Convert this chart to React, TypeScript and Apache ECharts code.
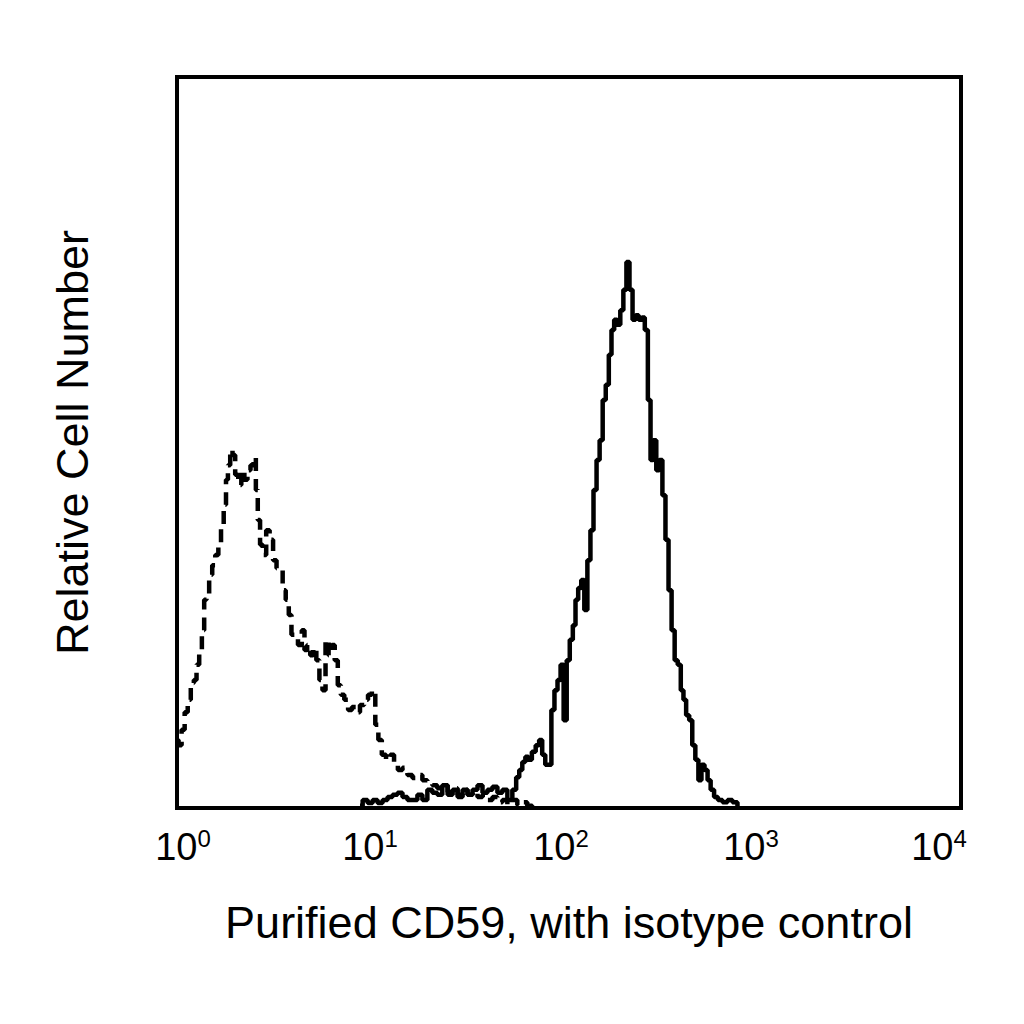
import { useRef, useEffect } from 'react';
import * as echarts from 'echarts';

// channels on a 1024-channel, 4-decade log scale (256 channels per decade)
const decadeTicks = [0, 1, 2, 3, 4];

const isoChannels = [
    0, 4, 8, 12, 16, 20, 24, 27, 31, 34, 37, 40, 44, 48, 52, 56, 59, 63, 65, 68,
    71, 74, 78, 82, 86, 90, 94, 98, 102, 104, 107, 110, 114, 119, 123, 128, 132, 136, 140, 144,
    148, 151, 155, 161, 165, 168, 172, 176, 180, 184, 188, 192, 196, 200, 204, 208, 212, 216, 221, 226,
    231, 236, 242, 247, 252, 257, 261, 265, 270, 276, 281, 286, 291, 298, 304, 311, 317, 324, 330, 337,
    343, 350, 357, 363, 370, 376, 383, 389, 396, 402, 409, 415, 422, 428, 435, 441, 448, 454, 461, 467
];
const isoCounts = [
    9.3, 8.6, 10.7, 13.1, 14.8, 17.1, 17.5, 19.6, 21.6, 24.3, 28.5, 28.9, 31.9, 33.2, 34.6, 36.0, 38.7, 41.5, 44.9, 46.9,
    49.0, 48.3, 45.6, 44.2, 46.2, 44.9, 46.2, 46.9, 48.0, 43.5, 39.4, 36.0, 34.6, 38.0, 36.7, 33.9, 32.8, 32.6, 29.8, 28.5,
    26.4, 23.7, 23.7, 22.3, 24.3, 21.6, 22.3, 20.9, 21.9, 20.2, 17.5, 16.1, 23.0, 20.9, 22.3, 20.2, 16.8, 15.5, 14.8, 13.4,
    13.8, 13.1, 14.1, 14.8, 15.5, 16.1, 11.4, 9.3, 7.3, 6.6, 7.3, 5.9, 5.2, 5.5, 4.5, 4.1, 4.5, 3.8, 3.6, 3.1,
    2.7, 3.1, 2.2, 2.7, 1.8, 2.5, 1.8, 2.2, 1.5, 1.8, 1.1, 1.5, 0.8, 1.1, 0.5, 1.1, 0.4, 0.8, 0.3, 0
];

const cd59Channels = [
    239, 246, 252, 259, 265, 272, 278, 285, 291, 298, 304, 311, 317, 324, 330, 337, 343, 350, 357, 363,
    370, 376, 383, 389, 396, 402, 409, 415, 422, 428, 435, 441, 445, 449, 453, 457, 461, 466, 471, 475,
    479, 483, 487, 491, 495, 499, 503, 507, 511, 515, 519, 522, 526, 530, 534, 538, 542, 546, 550, 554,
    558, 562, 566, 569, 573, 577, 581, 585, 589, 593, 597, 601, 605, 609, 613, 617, 620, 624, 628, 632,
    636, 640, 644, 648, 652, 656, 660, 663, 667, 671, 675, 679, 683, 687, 691, 695, 699, 704, 709, 716,
    722, 729, 735
];
const cd59Counts = [
    0.3, 1.1, 0.7, 1.1, 0.7, 1.1, 1.5, 1.8, 2.1, 1.5, 1.1, 1.1, 1.8, 1.1, 2.5, 2.1, 1.8, 3.1, 1.8, 2.5,
    1.5, 2.5, 1.8, 2.5, 3.1, 2.1, 2.5, 2.9, 2.1, 2.5, 1.1, 2.5, 4.2, 5.2, 6.3, 7.0, 6.6, 7.7, 8.6, 9.3,
    7.3, 5.9, 5.9, 13.4, 16.1, 17.5, 19.6, 12.0, 20.2, 23.0, 25.0, 28.5, 30.1, 31.2, 27.1, 33.9, 38.0, 43.5, 47.6, 50.3,
    55.8, 57.9, 62.0, 65.4, 66.8, 66.1, 68.1, 70.9, 74.7, 70.9, 66.8, 67.4, 66.8, 67.1, 65.4, 55.8, 47.6, 50.3, 46.2, 47.6,
    42.8, 36.7, 29.8, 24.3, 20.2, 19.6, 16.1, 14.8, 12.7, 12.0, 8.6, 6.6, 3.8, 5.9, 5.2, 3.8, 2.5, 1.5, 1.1, 0.8,
    1.1, 0.8, 0.3
];

const xTitle = 'Purified CD59, with isotype control';
const yTitle = 'Relative Cell Number';

const FONT = '"Liberation Sans", Arial, sans-serif';

// the printed decade labels sit slightly inward of the ticks in the original
const labelShift = [6, -3, -8, -14, -22];

const HistogramChart = () => {
    const chartRef = useRef<HTMLDivElement>(null);

    useEffect(() => {
        if (!chartRef.current) return;
        const chart = echarts.init(chartRef.current, null, { renderer: 'svg' });

        const isoData = isoChannels.map((c, i) => [c, isoCounts[i]]);
        const cd59Data = cd59Channels.map((c, i) => [c, cd59Counts[i]]);

        const rich: any = {
            base: { fontFamily: FONT, fontSize: 38, lineHeight: 42, color: '#000' },
            sup: { fontFamily: FONT, fontSize: 24, lineHeight: 24, verticalAlign: 'top', color: '#000' }
        };
        labelShift.forEach((s, i) => {
            rich['g' + i] = { width: Math.abs(s) * 2, fontSize: 10, lineHeight: 42 };
        });

        chart.setOption({
            animation: false,
            backgroundColor: '#fff',
            grid: {
                left: 177,
                right: 63,
                top: 77,
                bottom: 216,
                show: true,
                borderColor: '#000',
                borderWidth: 4,
                backgroundColor: 'transparent'
            },
            xAxis: {
                type: 'value',
                min: 0,
                max: 1024,
                interval: 256,
                name: xTitle,
                nameLocation: 'middle',
                nameGap: 92,
                nameTextStyle: { fontFamily: FONT, fontSize: 45, color: '#000' },
                axisLine: { show: false },
                axisTick: { show: false },
                splitLine: { show: false },
                axisLabel: {
                    margin: 18,
                    showMinLabel: true,
                    showMaxLabel: true,
                    fontFamily: FONT,
                    fontSize: 38,
                    color: '#000',
                    formatter: (v: number) => {
                        const i = Math.round(v / 256);
                        const label = `{base|10}{sup|${decadeTicks[i]}}`;
                        return labelShift[i] > 0 ? `{g${i}| }${label}` : `${label}{g${i}| }`;
                    },
                    rich
                }
            },
            yAxis: {
                type: 'value',
                min: 0,
                max: 100,
                name: yTitle,
                nameLocation: 'middle',
                nameGap: 82,
                nameTextStyle: { fontFamily: FONT, fontSize: 45, color: '#000' },
                axisLine: { show: false },
                axisTick: { show: false },
                axisLabel: { show: false },
                splitLine: { show: false }
            },
            series: [
                {
                    name: 'Isotype control',
                    type: 'line',
                    step: 'middle',
                    symbol: 'none',
                    data: isoData,
                    lineStyle: { color: '#000', width: 4.5, type: [13, 8] }
                },
                {
                    name: 'CD59',
                    type: 'line',
                    step: 'middle',
                    symbol: 'none',
                    data: cd59Data,
                    lineStyle: { color: '#000', width: 4.5, type: 'solid' }
                }
            ]
        });

        return () => {
            chart.dispose();
        };
    }, []);

    return (
        <div ref={chartRef} style={{ position: 'fixed', left: 0, top: 0, width: 1024, height: 1024 }} />
    );
};

export default function App() {
    return <HistogramChart />;
}
